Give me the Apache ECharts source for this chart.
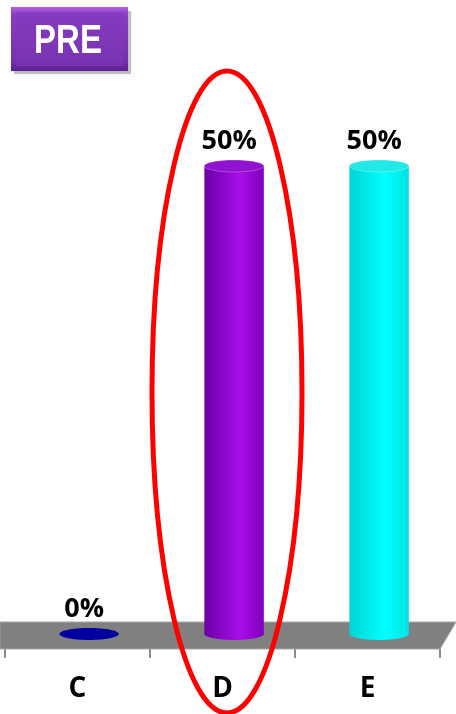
<!DOCTYPE html>
<html>
<head>
<meta charset="utf-8">
<script src="https://cdn.jsdelivr.net/npm/echarts@6/dist/echarts.min.js"></script>
<style>
html,body{margin:0;padding:0;background:#fff;}
#chart{width:456px;height:714px;}
</style>
</head>
<body>
<div id="chart"></div>
<script>
// ---- data ----
var categories = ['C', 'D', 'E'];
var values = [0, 50, 50];
var labelText = ['0%', '50%', '50%'];
var title = 'PRE';

// ---- styles ----
var palette = [
  {side: ['#00007a', '#0000b0', '#000090'], top: '#0000a0'},
  {side: ['#6a00a6', '#a80ee8', '#8000bc'], top: '#9012d0'},
  {side: ['#00d4d4', '#00ffff', '#00e2e2'], top: '#22e8e8'}
];

var chart = echarts.init(document.getElementById('chart'));

function renderItem(params, api) {
  var i = params.dataIndex;
  var v = api.value(1);
  var base = api.coord([api.value(0), 0]);
  var top = api.coord([api.value(0), v]);
  var band = api.size([1, 0])[0];
  var w = band * 0.41;
  var cx = base[0] + band * 0.08;
  var ry = w * 0.1;
  var p = palette[i];
  var grad = new echarts.graphic.LinearGradient(0, 0, 1, 0, [
    {offset: 0, color: p.side[0]},
    {offset: 0.6, color: p.side[1]},
    {offset: 1, color: p.side[2]}
  ]);
  var children = [];
  // category boundary ticks under the floor
  var tickY = base[1] + 15;
  var edges = [base[0] - band / 2];
  if (i === categories.length - 1) edges.push(base[0] + band / 2);
  edges.forEach(function (ex) {
    children.push({type: 'line', shape: {x1: ex, y1: tickY, x2: ex, y2: tickY + 9}, style: {stroke: '#8c8c8c', lineWidth: 2}});
  });
  if (v > 0) {
    children.push({type: 'rect', shape: {x: cx - w / 2, y: top[1], width: w, height: base[1] - top[1]}, style: {fill: grad}});
    children.push({type: 'ellipse', shape: {cx: cx, cy: base[1], rx: w / 2, ry: ry}, style: {fill: grad}});
    children.push({type: 'ellipse', shape: {cx: cx, cy: top[1], rx: w / 2, ry: ry}, style: {fill: p.top, stroke: 'rgba(255,255,255,0.25)', lineWidth: 1}});
  } else {
    children.push({type: 'ellipse', shape: {cx: cx, cy: base[1], rx: w / 2, ry: ry}, style: {fill: p.top}});
  }
  children.push({type: 'text', style: {
    text: labelText[i], x: cx - 5, y: top[1] - 25, align: 'center', verticalAlign: 'middle',
    fontFamily: '"Open Sans", sans-serif', fontWeight: 'bold', fontSize: 27, fill: '#000'
  }});
  return {type: 'group', children: children};
}

var seriesData = categories.map(function (c, i) { return [i, values[i]]; });

chart.setOption({
  animation: false,
  grid: {left: 5, right: 16, top: 166, bottom: 80},
  xAxis: {
    type: 'category',
    data: categories,
    offset: 15,
    axisLine: {show: false},
    axisTick: {show: false},
    axisLabel: {margin: 26, color: '#000', fontWeight: 'bold', fontSize: 28, fontFamily: '"Open Sans", sans-serif'},
    splitLine: {show: false}
  },
  yAxis: {type: 'value', min: 0, max: 50, show: false},
  series: [{
    type: 'custom',
    renderItem: renderItem,
    data: seriesData,
    clip: false,
    z: 5
  }],
  graphic: [
    {
      type: 'polygon', z: 1,
      shape: {points: [[0, 622], [456, 622], [440, 649], [0, 649]]},
      style: {fill: '#808080', stroke: '#a6a6a6', lineWidth: 1}
    },
    {
      type: 'ellipse', z: 100,
      shape: {cx: 227, cy: 392, rx: 75, ry: 321},
      style: {fill: 'none', stroke: '#ff0000', lineWidth: 5}
    },
    {
      type: 'rect', z: 50,
      shape: {x: 14, y: 11, width: 117, height: 63},
      style: {fill: 'rgba(0,0,0,0.22)', shadowBlur: 6, shadowColor: 'rgba(0,0,0,0.35)'}
    },
    {
      type: 'rect', z: 51,
      shape: {x: 11, y: 7, width: 117, height: 64},
      style: {
        fill: new echarts.graphic.LinearGradient(0, 0, 0, 1, [
          {offset: 0, color: '#b060e6'},
          {offset: 0.12, color: '#8a3cc4'},
          {offset: 0.85, color: '#7430ac'},
          {offset: 1, color: '#5c2090'}
        ])
      }
    },
    {
      type: 'rect', z: 52,
      shape: {x: 16, y: 12, width: 107, height: 54},
      style: {fill: 'rgba(128,56,184,0.55)'}
    },
    {
      type: 'text', z: 53,
      x: 68, y: 42, scaleY: 1.25, originY: 0,
      style: {text: title, fontFamily: '"Liberation Sans", Arial, sans-serif', fontWeight: 'bold', fontSize: 33, fill: '#fff', align: 'center', verticalAlign: 'middle'}
    }
  ]
});
</script>
</body>
</html>
